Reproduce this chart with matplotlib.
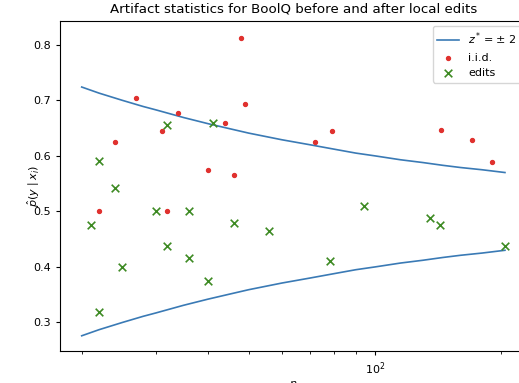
import matplotlib
matplotlib.use("Agg")
import matplotlib.pyplot as plt

plt.rcParams['font.size'] = 8

# Confidence band
band_n = [20, 22, 25, 28, 30, 35, 40, 45, 50, 60, 70, 80, 90, 100, 115, 130, 145, 160, 180, 204]
band_upper = [0.724, 0.713, 0.700, 0.689, 0.683, 0.669, 0.658, 0.649, 0.641, 0.629, 0.620,
              0.612, 0.605, 0.600, 0.593, 0.588, 0.583, 0.579, 0.575, 0.570]
band_lower = [0.276, 0.287, 0.300, 0.311, 0.317, 0.331, 0.342, 0.351, 0.359, 0.371, 0.380,
              0.388, 0.395, 0.400, 0.407, 0.412, 0.417, 0.421, 0.425, 0.430]

# i.i.d. points
iid_n = [48, 27, 49, 34, 31, 44, 24, 40, 46, 22, 32, 72, 79, 144, 170, 190]
iid_p = [0.8125, 0.7037, 0.6939, 0.6765, 0.6452, 0.6591, 0.625, 0.575, 0.5652, 0.5, 0.5,
         0.625, 0.6456, 0.6458, 0.6294, 0.5895]

# edit points
edit_n = [32, 41, 22, 24, 21, 30, 36, 46, 56, 32, 36, 25, 40, 22, 94, 135, 143, 78, 204]
edit_p = [0.6563, 0.6585, 0.5909, 0.5417, 0.4762, 0.5, 0.5, 0.4783, 0.4643, 0.4375, 0.4167,
          0.4, 0.375, 0.3182, 0.5106, 0.4889, 0.4755, 0.4103, 0.4375]

fig = plt.figure(figsize=(5.19, 3.83), dpi=100)
ax = fig.add_axes([60/519, (383-351)/383, (526.3-60)/519, (351-20.5)/383])

line_color = '#3a7ab5'
ax.plot(band_n, band_upper, color=line_color, lw=1.2, label=r'$z^* = \pm\ 2$')
ax.plot(band_n, band_lower, color=line_color, lw=1.2)
ax.scatter(iid_n, iid_p, s=8, color='#e0312e', marker='o', label='i.i.d.', zorder=3)
ax.scatter(edit_n, edit_p, s=30, color='#3d8a23', marker='x', linewidths=1.2, label='edits', zorder=3)

ax.set_xscale('log')
ax.set_xlim(10**1.2493, 10**2.3605)
ax.set_ylim(0.2486, 0.8438)
ax.set_yticks([0.3, 0.4, 0.5, 0.6, 0.7, 0.8])
ax.set_title('Artifact statistics for BoolQ before and after local edits', fontsize=9.6)
ax.set_xlabel(r'$n$', labelpad=2)
ax.set_ylabel(r'$\hat{p}(y \mid x_i)$', labelpad=-6)
ax.tick_params(length=3, width=0.8)
ax.tick_params(which='minor', length=2, width=0.6)
for s in ax.spines.values():
    s.set_linewidth(0.8)
ax.legend(loc='upper right', fontsize=8)

fig.savefig('out.png', dpi=100)
